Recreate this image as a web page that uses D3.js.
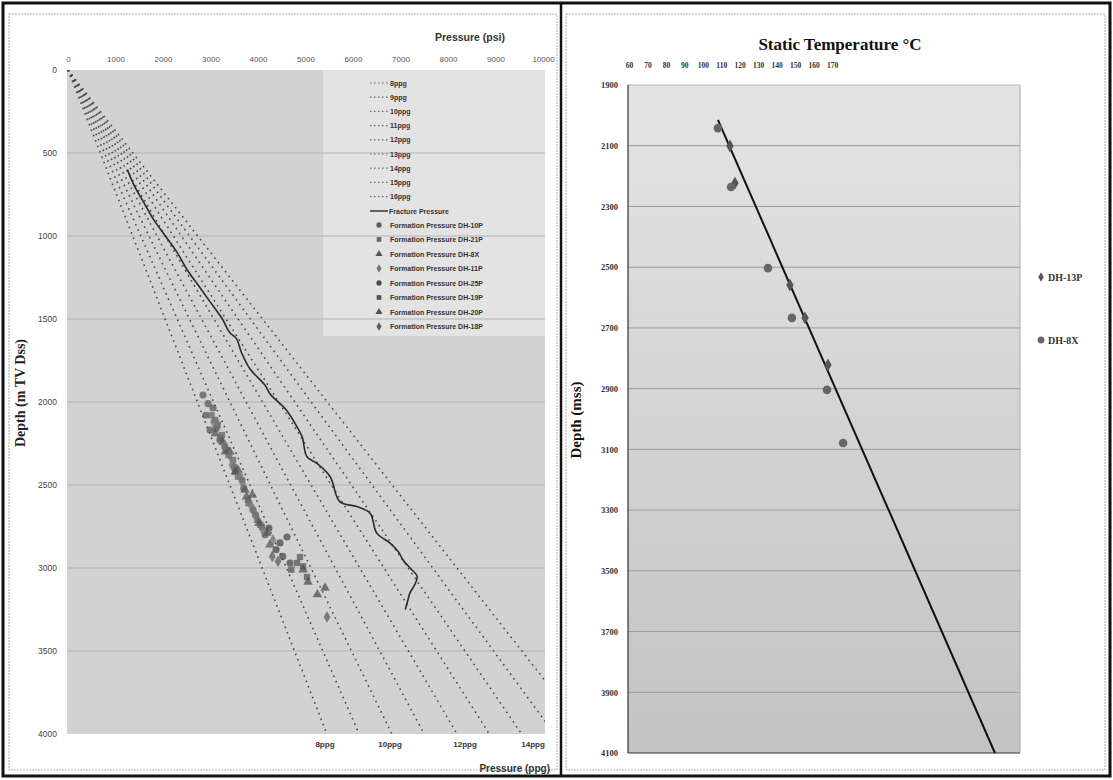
<!DOCTYPE html>
<html>
<head>
<meta charset="utf-8">
<script src="https://cdn.jsdelivr.net/npm/d3@7"></script>
<style>
  body { margin: 0; background: #fff; }
  svg { display: block; -webkit-font-smoothing: antialiased; }
</style>
</head>
<body>
<svg id="chart" width="1113" height="780"></svg>
<script>
// ---- left panel: pressure vs depth ----
const psiTicks = [0, 1000, 2000, 3000, 4000, 5000, 6000, 7000, 8000, 9000, 10000];
const depthTicks = [0, 500, 1000, 1500, 2000, 2500, 3000, 3500, 4000];
const ppgNames = ["8ppg", "9ppg", "10ppg", "11ppg", "12ppg", "13ppg", "14ppg", "15ppg", "16ppg"];
const ppgPsiAt4000 = [5450, 6130, 6820, 7500, 8190, 8870, 9550, 10240, 10920];
const ppgBottomLabels = ["8ppg", "10ppg", "12ppg", "14ppg"];
const ppgBottomPsi = [5410, 6780, 8360, 9790];

const fractureName = "Fracture Pressure";
const fracturePsi = [1250, 1400, 1600, 1800, 2050, 2300, 2500, 2750, 3000, 3250, 3400, 3550, 3650, 3830, 4150, 4250, 4600, 4820, 4930, 5030, 5240, 5520, 5720, 6080, 6360, 6500, 6780, 6950, 7050, 7200, 7350, 7300, 7200, 7150, 7100];
const fractureDepth = [600, 700, 800, 900, 1000, 1100, 1200, 1300, 1400, 1500, 1580, 1620, 1700, 1800, 1900, 1950, 2050, 2150, 2210, 2330, 2370, 2450, 2600, 2630, 2670, 2790, 2850, 2900, 2950, 3000, 3050, 3100, 3150, 3200, 3250];

const formationNames = [
  "Formation Pressure DH-10P", "Formation Pressure DH-21P", "Formation Pressure DH-8X",
  "Formation Pressure DH-11P", "Formation Pressure DH-25P", "Formation Pressure DH-19P",
  "Formation Pressure DH-20P", "Formation Pressure DH-18P"
];
const formationPsi = [
  [2842, 3053, 2989, 3347, 3663, 3895, 2900, 3200, 2950, 3120, 3300, 3500, 3700, 3950, 4150],
  [3095, 3242, 3474, 3789, 4084, 3150, 3520, 3020, 3200, 3380, 3580, 3800, 4050],
  [3263, 3579, 3726, 4000, 4189, 3410, 3880, 3100, 3310, 3520, 3760, 4020, 4250],
  [3150, 3400, 3620, 3850, 4316, 3300, 3950, 3060, 3450, 3680, 3900, 4100],
  [4463, 4611, 4674, 4230, 4380, 4520],
  [4821, 4884, 5032, 4700, 4950],
  [5053, 5411, 4950, 5250],
  [5453, 4300, 4420]
];
const formationDepth = [
  [1958, 2036, 2169, 2289, 2470, 2651, 2080, 2230, 2010, 2160, 2270, 2390, 2520, 2680, 2800],
  [2108, 2199, 2349, 2590, 2753, 2140, 2420, 2080, 2215, 2320, 2450, 2610, 2740],
  [2241, 2410, 2530, 2711, 2789, 2300, 2560, 2190, 2300, 2420, 2570, 2730, 2860],
  [2130, 2320, 2440, 2620, 2831, 2260, 2690, 2120, 2380, 2490, 2650, 2770],
  [2849, 2813, 2970, 2760, 2890, 2930],
  [2970, 2934, 3054, 3010, 2990],
  [3084, 3120, 3010, 3160],
  [3295, 2930, 2960]
];

// ---- right panel: static temperature vs depth ----
const tempTicks = [60, 70, 80, 90, 100, 110, 120, 130, 140, 150, 160, 170];
const depthTicksR = [1900, 2100, 2300, 2500, 2700, 2900, 3100, 3300, 3500, 3700, 3900, 4100];
const dh13pTemp = [114.7, 147.2, 155.4, 167.8, 117.4];
const dh13pDepth = [2101, 2559, 2667, 2822, 2223];
const dh8xTemp = [108.2, 115.3, 135.3, 148.3, 167.3, 176.0];
const dh8xDepth = [2042, 2236, 2503, 2667, 2904, 3079];
const trendTemp = [108.2, 258.3];
const trendDepth = [2015, 4100];

const svg = d3.select("#chart");
const fmtInt = d3.format("d");
const SANS = "Liberation Sans, Arial, sans-serif";
const SERIF = "Liberation Serif, Times New Roman, serif";

// frames
svg.append("rect").attr("x", 3).attr("y", 3).attr("width", 1107).attr("height", 773)
  .attr("fill", "none").attr("stroke", "#111").attr("stroke-width", 3);
svg.append("rect").attr("x", 9).attr("y", 14).attr("width", 548).attr("height", 756)
  .attr("fill", "none").attr("stroke", "#999").attr("stroke-width", 0.8).attr("stroke-dasharray", "2,1");
svg.append("rect").attr("x", 566).attr("y", 14).attr("width", 539).attr("height", 756)
  .attr("fill", "none").attr("stroke", "#999").attr("stroke-width", 0.8).attr("stroke-dasharray", "2,1");
svg.append("line").attr("x1", 561).attr("x2", 561).attr("y1", 3).attr("y2", 776)
  .attr("stroke", "#111").attr("stroke-width", 2.5);

// ================= LEFT =================
const xP = d3.scaleLinear().domain([0, 10000]).range([68, 543]);
const yL = d3.scaleLinear().domain([0, 4000]).range([70, 734]);

const defs = svg.append("defs");
defs.append("clipPath").attr("id", "clipL").append("rect")
  .attr("x", 67).attr("y", 70).attr("width", 478).attr("height", 664);
const gradR = defs.append("linearGradient").attr("id", "gradR")
  .attr("x1", 0).attr("y1", 0).attr("x2", 0).attr("y2", 1);
gradR.append("stop").attr("offset", "0%").attr("stop-color", "#e4e4e4");
gradR.append("stop").attr("offset", "100%").attr("stop-color", "#c3c3c3");

svg.append("rect").attr("x", 67).attr("y", 70).attr("width", 478).attr("height", 664)
  .attr("fill", "#d2d2d2");
// legend box (lighter region)
svg.append("rect").attr("x", 323).attr("y", 70).attr("width", 222).attr("height", 266)
  .attr("fill", "#e3e3e3");

// horizontal grid
svg.append("g").selectAll("line").data(depthTicks.slice(1, -1)).join("line")
  .attr("x1", 67).attr("x2", 545)
  .attr("y1", d => yL(d)).attr("y2", d => yL(d))
  .attr("stroke", "#b2b2b2").attr("stroke-width", 1);

// top axis
const axTop = svg.append("g").attr("transform", "translate(0,62)")
  .call(d3.axisTop(xP).tickValues(psiTicks).tickFormat(fmtInt).tickSize(0).tickPadding(0));
axTop.select(".domain").remove();
axTop.selectAll("text").attr("font-family", SANS)
  .attr("font-size", 8).attr("fill", "#555");

svg.append("text").attr("x", 470).attr("y", 41).attr("text-anchor", "middle")
  .attr("font-family", SANS).attr("font-weight", "bold")
  .attr("font-size", 10.5).attr("fill", "#333").text("Pressure (psi)");

// left axis
const axLeft = svg.append("g").attr("transform", "translate(57,0)")
  .call(d3.axisLeft(yL).tickValues(depthTicks).tickFormat(fmtInt).tickSize(0).tickPadding(0));
axLeft.select(".domain").remove();
axLeft.selectAll("text").attr("font-family", SANS)
  .attr("font-size", 8.5).attr("fill", "#444");

svg.append("text").attr("transform", "translate(25,393) rotate(-90)")
  .attr("text-anchor", "middle")
  .attr("font-family", SERIF).attr("font-weight", "bold")
  .attr("font-size", 14).attr("fill", "#222").text("Depth (m TV Dss)");

// ppg gradient lines
const ppgLine = d3.line().x(d => xP(d[0])).y(d => yL(d[1]));
svg.append("g").attr("clip-path", "url(#clipL)").selectAll("path")
  .data(ppgPsiAt4000).join("path")
  .attr("d", d => ppgLine([[0, 0], [d, 4000]]))
  .attr("fill", "none").attr("stroke", "#4a4a4a").attr("stroke-width", 1.6)
  .attr("stroke-dasharray", "1.6,4.2");

// bottom ppg labels
svg.append("g").selectAll("text").data(ppgBottomLabels).join("text")
  .attr("x", (d, i) => xP(ppgBottomPsi[i])).attr("y", 747)
  .attr("text-anchor", "middle")
  .attr("font-family", SANS).attr("font-weight", "bold")
  .attr("font-size", 8).attr("fill", "#333").text(d => d);
svg.append("text").attr("x", 550).attr("y", 772).attr("text-anchor", "end")
  .attr("font-family", SANS).attr("font-weight", "bold")
  .attr("font-size", 10).attr("fill", "#333").text("Pressure (ppg)");

// formation pressure points
const symTypes = [d3.symbolCircle, d3.symbolSquare, d3.symbolTriangle, d3.symbolDiamond,
  d3.symbolCircle, d3.symbolSquare, d3.symbolTriangle, d3.symbolDiamond];
const symFill = ["#5a5a5a", "#666", "#555", "#777", "#4a4a4a", "#555", "#505050", "#5c5c5c"];
formationPsi.forEach((arr, s) => {
  svg.append("g").selectAll("path").data(arr).join("path")
    .attr("transform", (d, i) => `translate(${xP(d)},${yL(formationDepth[s][i])})`)
    .attr("d", d3.symbol().type(symTypes[s]).size(40))
    .attr("fill", symFill[s]).attr("fill-opacity", 0.75);
});

// fracture pressure line
const fracLine = d3.line().curve(d3.curveCatmullRom)
  .x(d => xP(d)).y((d, i) => yL(fractureDepth[i]));
svg.append("path").datum(fracturePsi).attr("d", fracLine)
  .attr("fill", "none").attr("stroke", "#2a2a2a").attr("stroke-width", 1.6);

// left legend
const legL = svg.append("g").attr("font-family", SANS)
  .attr("font-size", 7).attr("font-weight", "bold").attr("fill", "#333");
ppgNames.forEach((n, i) => {
  const y = 83 + i * 14.2;
  legL.append("line").attr("x1", 370).attr("x2", 389).attr("y1", y).attr("y2", y)
    .attr("stroke", "#666").attr("stroke-width", 1.2).attr("stroke-dasharray", "1.5,2.5");
  legL.append("text").attr("x", 390).attr("y", y + 2.5).text(n);
});
legL.append("line").attr("x1", 370).attr("x2", 388).attr("y1", 211).attr("y2", 211)
  .attr("stroke", "#333").attr("stroke-width", 1.5);
legL.append("text").attr("x", 389).attr("y", 213.5).text(fractureName);
formationNames.forEach((n, i) => {
  const y = 225 + i * 14.5;
  legL.append("path").attr("transform", `translate(379,${y})`)
    .attr("d", d3.symbol().type(symTypes[i]).size(22)).attr("fill", symFill[i]);
  legL.append("text").attr("x", 390).attr("y", y + 2.5).text(n);
});

// ================= RIGHT =================
const xT = d3.scaleLinear().domain([60, 170]).range([629, 832]);
const yR = d3.scaleLinear().domain([1900, 4100]).range([85, 753]);
const R = { x0: 628, x1: 1020 };

svg.append("rect").attr("x", R.x0).attr("y", 85).attr("width", R.x1 - R.x0).attr("height", 668)
  .attr("fill", "url(#gradR)");
svg.append("g").selectAll("line").data(depthTicksR.slice(1, -1)).join("line")
  .attr("x1", R.x0).attr("x2", R.x1)
  .attr("y1", d => yR(d)).attr("y2", d => yR(d))
  .attr("stroke", "#9c9c9c").attr("stroke-width", 1);
svg.append("line").attr("x1", R.x0).attr("x2", R.x1).attr("y1", 85).attr("y2", 85)
  .attr("stroke", "#b5b5b5").attr("stroke-width", 1);
svg.append("line").attr("x1", R.x1).attr("x2", R.x1).attr("y1", 85).attr("y2", 753)
  .attr("stroke", "#aaa").attr("stroke-width", 1);
svg.append("line").attr("x1", R.x0).attr("x2", R.x0).attr("y1", 85).attr("y2", 753)
  .attr("stroke", "#333").attr("stroke-width", 1.2);
svg.append("line").attr("x1", R.x0).attr("x2", R.x1).attr("y1", 753).attr("y2", 753)
  .attr("stroke", "#333").attr("stroke-width", 1.2);

svg.append("text").attr("x", 840).attr("y", 50).attr("text-anchor", "middle")
  .attr("font-family", SERIF).attr("font-weight", "bold")
  .attr("font-size", 17).attr("fill", "#111").text("Static Temperature \u00B0C");

const axTopR = svg.append("g").attr("transform", "translate(0,68)")
  .call(d3.axisTop(xT).tickValues(tempTicks).tickFormat(fmtInt).tickSize(0).tickPadding(0));
axTopR.select(".domain").remove();
axTopR.selectAll("text").attr("font-family", SERIF)
  .attr("font-weight", "bold").attr("font-size", 7.5).attr("fill", "#333");

const axLeftR = svg.append("g").attr("transform", "translate(618,0)")
  .call(d3.axisLeft(yR).tickValues(depthTicksR).tickFormat(fmtInt).tickSize(0).tickPadding(0));
axLeftR.select(".domain").remove();
axLeftR.selectAll("text").attr("font-family", SERIF)
  .attr("font-weight", "bold").attr("font-size", 8.5).attr("fill", "#333");

svg.append("text").attr("transform", "translate(581,420) rotate(-90)")
  .attr("text-anchor", "middle")
  .attr("font-family", SERIF).attr("font-weight", "bold")
  .attr("font-size", 15).attr("fill", "#111").text("Depth (mss)");

// trend line
svg.append("path").datum(trendTemp)
  .attr("d", d3.line().x(d => xT(d)).y((d, i) => yR(trendDepth[i])))
  .attr("stroke", "#111").attr("stroke-width", 2).attr("fill", "none");

// points
svg.append("g").selectAll("path").data(dh13pTemp).join("path")
  .attr("transform", (d, i) => `translate(${xT(d)},${yR(dh13pDepth[i])})`)
  .attr("d", d3.symbol().type(d3.symbolDiamond).size(48))
  .attr("fill", "#555");
svg.append("g").selectAll("circle").data(dh8xTemp).join("circle")
  .attr("cx", d => xT(d)).attr("cy", (d, i) => yR(dh8xDepth[i])).attr("r", 4.3)
  .attr("fill", "#666");

// right legend
const legR = svg.append("g").attr("font-family", SERIF)
  .attr("font-size", 10).attr("font-weight", "bold").attr("fill", "#333");
legR.append("path").attr("transform", "translate(1041,277)")
  .attr("d", d3.symbol().type(d3.symbolDiamond).size(26)).attr("fill", "#555");
legR.append("text").attr("x", 1048).attr("y", 280.5).text("DH-13P");
legR.append("circle").attr("cx", 1041).attr("cy", 340).attr("r", 3.4).attr("fill", "#666");
legR.append("text").attr("x", 1048).attr("y", 343.5).text("DH-8X");
</script>
</body>
</html>
